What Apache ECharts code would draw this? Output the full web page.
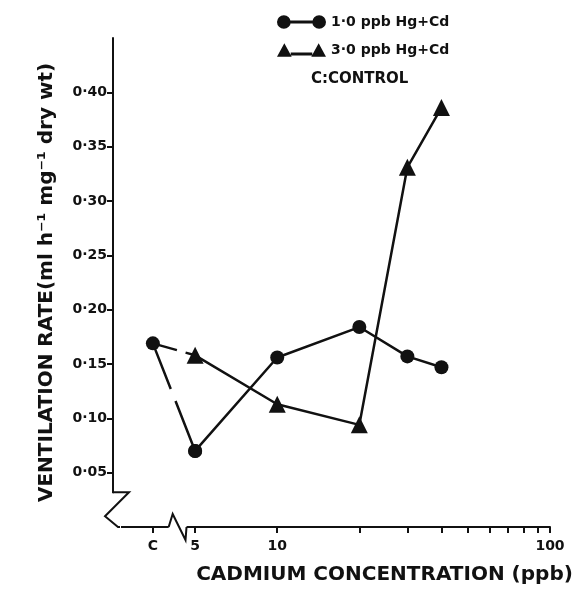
<!DOCTYPE html>
<html>
<head>
<meta charset="utf-8">
<script src="https://cdn.jsdelivr.net/npm/echarts@6/dist/echarts.min.js"></script>
<style>
html,body{margin:0;padding:0;background:#fff;}
#main{width:576px;height:597px;}
</style>
</head>
<body>
<div id="main"></div>
<script>
// ---- data ----
const seriesNames = ['1·0 ppb Hg+Cd', '3·0 ppb Hg+Cd'];
const concentrations = [5, 10, 20, 30, 40];          // ppb Cd (log axis)
const controlPosition = 3.5;                         // where "C" (control) sits on the axis
const controlRate = 0.169;
const rate1ppb = [0.070, 0.156, 0.184, 0.157, 0.147];
const rate3ppb = [0.158, 0.113, 0.094, 0.331, 0.386];
const yTickValues = [0.05, 0.10, 0.15, 0.20, 0.25, 0.30, 0.35, 0.40];
const xTickValues = [3.5, 5, 10, 20, 30, 40, 50, 60, 70, 80, 90, 100];
const xLabelValues = [3.5, 5, 10, 100];

const chart = echarts.init(document.getElementById('main'), null, {renderer: 'canvas'});
const FONT = 'DejaVu Sans';
const INK = '#111';

const pairs = (xs, ys) => xs.map((x, i) => [x, ys[i]]);

const circleIcon = 'path://M0,7 A7,7 0 1 1 14,7 A7,7 0 1 1 0,7 Z M13,5.5 L37,5.5 L37,8.5 L13,8.5 Z M36,7 A7,7 0 1 1 50,7 A7,7 0 1 1 36,7 Z';
const triIcon = 'path://M0,14 L7.5,0 L15,14 Z M14,9.5 L36,9.5 L36,12.5 L14,12.5 Z M35,14 L42.5,0 L50,14 Z';

const option = {
  animation: false,
  backgroundColor: '#fff',
  grid: {left: 113, right: 26, top: 38, bottom: 70, containLabel: false},
  legend: {
    orient: 'vertical', left: 272, top: 10, itemWidth: 49, itemHeight: 14, itemGap: 14,
    data: [
      {name: seriesNames[0], icon: circleIcon},
      {name: seriesNames[1], icon: triIcon}
    ],
    textStyle: {fontFamily: FONT, fontSize: 14, color: INK, fontWeight: 'bold'}
  },
  title: {
    text: 'C:CONTROL', left: 306, top: 67,
    textStyle: {fontFamily: FONT, fontSize: 15, color: INK, fontWeight: 'bold'}
  },
  xAxis: {
    type: 'log', min: 2.5, max: 100,
    name: 'CADMIUM CONCENTRATION (ppb)', nameLocation: 'middle', nameGap: 38,
    nameTextStyle: {fontFamily: FONT, fontSize: 20, fontWeight: 'bold', color: INK, padding: [0, 0, 0, 106]},
    axisLine: {show: true, lineStyle: {color: INK, width: 2}},
    axisTick: {show: true, inside: false, length: 6, lineStyle: {color: INK, width: 2}, customValues: xTickValues},
    minorTick: {show: false},
    splitLine: {show: false},
    axisLabel: {
      customValues: xLabelValues, margin: 12,
      fontFamily: FONT, fontSize: 14, fontWeight: 'bold', color: INK,
      formatter: v => (Math.abs(v - controlPosition) < 1e-6 ? 'C' : String(Math.round(v)))
    }
  },
  yAxis: {
    type: 'value', min: 0, max: 0.45, interval: 0.05,
    name: 'VENTILATION RATE(ml h⁻¹ mg⁻¹ dry wt)', nameLocation: 'middle', nameGap: 56,
    nameTextStyle: {fontFamily: FONT, fontSize: 20, fontWeight: 'bold', color: INK},
    axisLine: {show: true, lineStyle: {color: INK, width: 2}},
    axisTick: {show: true, inside: false, length: 6, lineStyle: {color: INK, width: 2}, customValues: yTickValues},
    splitLine: {show: false},
    axisLabel: {
      customValues: yTickValues, margin: 6,
      fontFamily: FONT, fontSize: 14, fontWeight: 'bold', color: INK,
      formatter: v => v.toFixed(2).replace('.', '·')
    }
  },
  series: [
    {
      name: seriesNames[0], type: 'line', data: pairs(concentrations, rate1ppb),
      symbol: 'circle', symbolSize: 14, color: INK,
      lineStyle: {color: INK, width: 2.5}, itemStyle: {color: INK}, z: 3
    },
    {
      name: seriesNames[1], type: 'line', data: pairs(concentrations, rate3ppb),
      symbol: 'triangle', symbolSize: 17, color: INK,
      lineStyle: {color: INK, width: 2.5}, itemStyle: {color: INK}, z: 3
    },
    {
      name: 'control-1', type: 'line',
      data: [[controlPosition, controlRate], [concentrations[0], rate1ppb[0]]],
      symbol: 'circle', symbolSize: 14, color: INK, itemStyle: {color: INK},
      lineStyle: {color: INK, width: 2.5, type: [49, 13, 400, 10]}, z: 2
    },
    {
      name: 'control-3', type: 'line',
      data: [[controlPosition, controlRate], [concentrations[0], rate3ppb[0]]],
      symbol: 'none', color: INK,
      lineStyle: {color: INK, width: 2.5, type: [25, 9, 200, 10]}, z: 2
    }
  ]
};
chart.setOption(option);

// axis break marks, placed from the axes' own scales
function px(x, y) { return chart.convertToPixel({gridIndex: 0}, [x, y]); }
const o = px(2.5, 0);
const yBreakTop = px(2.5, 0.032)[1];
const xBreakL = px(4.0, 0)[0];
const xBreakR = px(4.65, 0)[0];
chart.setOption({
  graphic: [
    {type: 'rect', shape: {x: o[0] - 8, y: yBreakTop + 1, width: 16, height: o[1] - yBreakTop + 3}, style: {fill: '#fff'}, z: 100},
    {type: 'rect', shape: {x: xBreakL, y: o[1] - 4, width: xBreakR - xBreakL, height: 8}, style: {fill: '#fff'}, z: 100},
    {type: 'rect', shape: {x: o[0] - 2, y: o[1] - 4, width: 6, height: 8}, style: {fill: '#fff'}, z: 100},
    {type: 'polyline', shape: {points: [[o[0], yBreakTop], [o[0] + 16, yBreakTop], [o[0] - 8, yBreakTop + 24], [o[0] + 5, o[1]], [o[0] + 7, o[1]]]},
      style: {stroke: INK, lineWidth: 2, fill: null}, z: 101},
    {type: 'polyline', shape: {points: [[xBreakL, o[1]], [xBreakL + 4, o[1] - 13], [xBreakR - 1, o[1] + 13], [xBreakR, o[1]]]},
      style: {stroke: INK, lineWidth: 2, fill: null}, z: 101}
  ]
});
</script>
</body>
</html>
